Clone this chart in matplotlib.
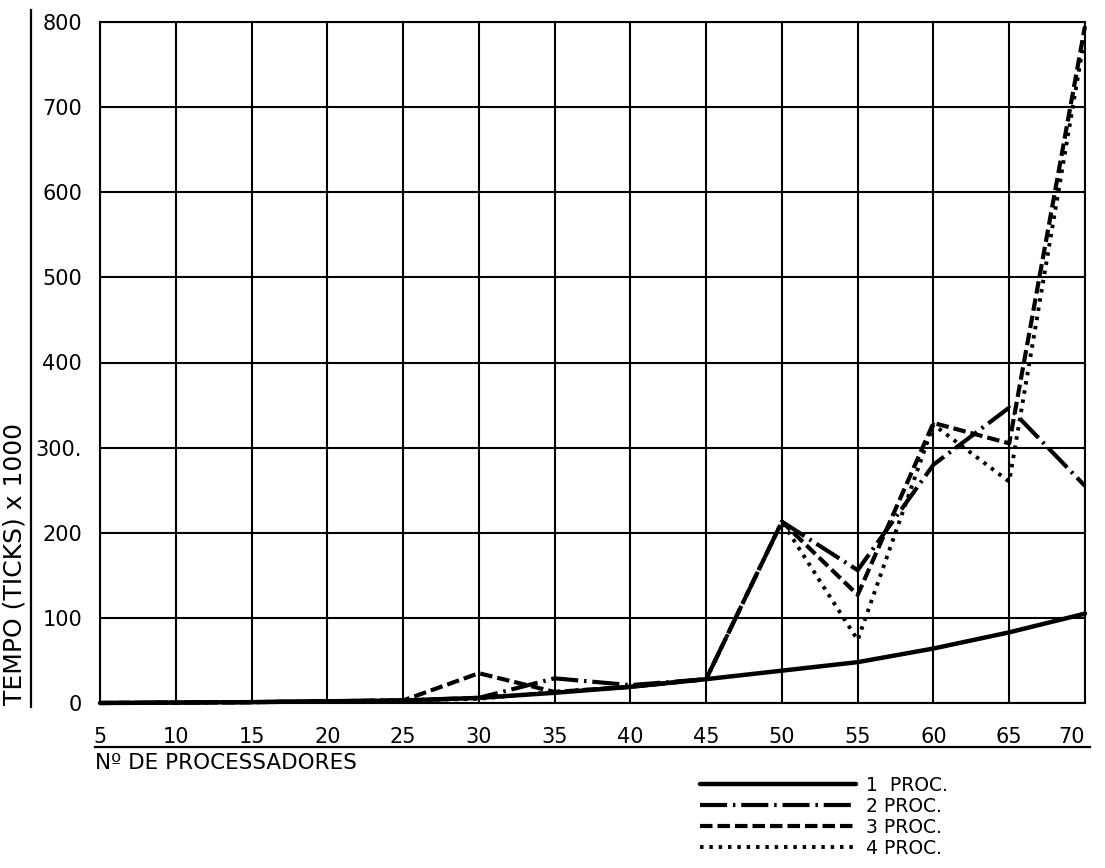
import matplotlib.pyplot as plt
from matplotlib.lines import Line2D

plt.rcParams['font.family'] = ['DejaVu Sans']

# numero de processadores
n_proc = [5, 10, 15, 20, 25, 30, 35, 40, 45, 50, 55, 60, 65, 70]

# tempo (ticks x 1000) para cada numero de processadores de E/S
tempo_1proc = [0, 0.5, 1, 2, 3, 6, 12, 19, 28, 38, 48, 64, 83, 105]
tempo_2proc = [0, 0.5, 1, 2, 3, 6, 29, 21, 28, 213, 156, 280, 347, 255]
tempo_3proc = [0, 0.5, 1, 2, 3, 35, 13, 19, 28, 213, 127, 329, 305, 795]
tempo_4proc = [0, 0.5, 1, 2, 3, 5, 13, 19, 28, 213, 74, 327, 260, 785]

y_ticks = [0, 100, 200, 300, 400, 500, 600, 700, 800]
y_tick_labels = ['0', '100', '200', '300.', '400', '500', '600', '700', '800']
legend_labels = ['1  PROC.', '2 PROC.', '3 PROC.', '4 PROC.']

fig = plt.figure(figsize=(11.05, 8.68), dpi=100)
ax = fig.add_axes([100 / 1105, 1 - 703 / 868, 985 / 1105, 681 / 868])

ax.plot(n_proc, tempo_1proc, color='black', lw=3.2, ls='-',
        solid_capstyle='round', clip_on=False, label=legend_labels[0])
ax.plot(n_proc, tempo_2proc, color='black', lw=3.0,
        ls=(0, (6.5, 1.4, 0.6, 1.4)), clip_on=False, label=legend_labels[1])
ax.plot(n_proc, tempo_3proc, color='black', lw=3.0,
        ls=(0, (3.0, 1.2)), clip_on=False, label=legend_labels[2])
ax.plot(n_proc, tempo_4proc, color='black', lw=2.8,
        ls=(0, (0.9, 1.5)), clip_on=False, label=legend_labels[3])

ax.set_xlim(5, 70)
ax.set_ylim(0, 800)
ax.set_xticks(n_proc)
ax.set_xticklabels([str(v) for v in n_proc])
ax.get_xticklabels()[-1].set_horizontalalignment('right')
ax.set_yticks(y_ticks)
ax.set_yticklabels(y_tick_labels)
ax.tick_params(length=0, labelsize=15, colors='black')
ax.tick_params(axis='y', pad=13)
ax.tick_params(axis='x', pad=17)
ax.grid(True, color='black', lw=1.5)
ax.set_axisbelow(True)
for s in ax.spines.values():
    s.set_linewidth(1.5)
    s.set_color('black')

# titulos dos eixos, sublinhados a mao
fig.text(15 / 1105, 1 - 705 / 868, 'TEMPO (TICKS) x 1000', rotation=90,
         ha='center', va='bottom', fontsize=18)
fig.add_artist(Line2D([31 / 1105, 31 / 1105], [1 - 707 / 868, 1 - 10 / 868],
                      color='black', lw=1.6))
fig.add_artist(Line2D([95 / 1105, 1090 / 1105], [1 - 747 / 868, 1 - 747 / 868],
                      color='black', lw=1.6))
fig.text(95 / 1105, 1 - 763 / 868, 'Nº DE PROCESSADORES', ha='left',
         va='center', fontsize=15.5)

ax.legend(loc='upper left', bbox_to_anchor=(700 / 1105, 1 - 776 / 868),
          bbox_transform=fig.transFigure, frameon=False, fontsize=13.5,
          handlelength=8.3, handletextpad=0.55, labelspacing=0.1,
          borderpad=0, borderaxespad=0)

fig.savefig('out.png', dpi=100)
